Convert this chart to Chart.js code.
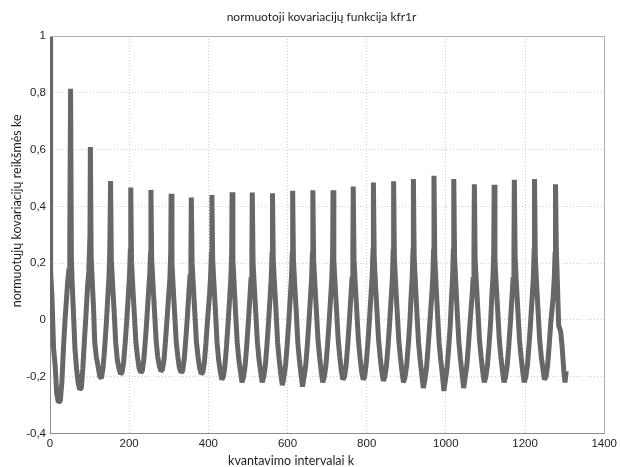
<!DOCTYPE html>
<html>
<head>
<meta charset="utf-8">
<script src="https://cdn.jsdelivr.net/npm/chart.js@4.4.1/dist/chart.umd.min.js"></script>
<style>
  html, body { margin: 0; padding: 0; background: #fff; }
  #chart { display: block; }
</style>
</head>
<body>
<canvas id="chart" width="620" height="467"></canvas>
<script>
const chartTitle = 'normuotoji kovariacijų funkcija kfr1r';
const xTitle = 'kvantavimo intervalai k';
const yTitle = 'normuotųjų kovariacijų reikšmės ke';

const xTickLabels = ['0', '200', '400', '600', '800', '1000', '1200', '1400'];
const yTickLabels = ['-0,4', '-0,2', '0', '0,2', '0,4', '0,6', '0,8', '1'];

// one line per period, peak first
const kValues = [
  0, 1, 2, 5, 9, 13, 17, 21, 26, 30, 34, 38, 42, 45, 48, 50,
  52, 54, 56, 60, 63, 67, 71, 75, 79, 83, 87, 91, 95, 98, 101,
  102, 104, 107, 110, 113, 117, 121, 126, 130, 134, 138, 142, 146, 149, 151,
  153, 155, 158, 162, 166, 170, 174, 178, 182, 186, 190, 194, 198, 201, 203,
  204, 206, 209, 213, 217, 221, 225, 229, 233, 237, 241, 245, 249, 252, 254,
  255, 257, 260, 264, 268, 272, 276, 280, 284, 288, 292, 296, 300, 303, 305,
  306, 308, 311, 315, 319, 323, 327, 331, 335, 339, 343, 347, 351, 354, 356,
  357, 359, 362, 366, 370, 374, 378, 382, 386, 390, 394, 398, 403, 406, 408,
  409, 411, 414, 418, 422, 426, 430, 434, 438, 442, 446, 450, 454, 457, 459,
  460, 462, 465, 469, 473, 477, 481, 485, 489, 493, 497, 501, 505, 508, 510,
  511, 513, 516, 520, 524, 528, 532, 536, 540, 544, 548, 552, 556, 559, 561,
  562, 564, 567, 571, 575, 579, 583, 587, 591, 595, 599, 603, 607, 610, 612,
  613, 615, 618, 622, 626, 630, 634, 638, 642, 646, 650, 654, 658, 661, 663,
  664, 666, 669, 673, 677, 681, 685, 689, 693, 697, 701, 705, 709, 712, 714,
  715, 717, 720, 724, 728, 732, 736, 740, 744, 748, 752, 756, 760, 763, 765,
  766, 768, 771, 775, 779, 783, 787, 791, 795, 799, 803, 807, 811, 814, 816,
  817, 819, 822, 826, 830, 834, 838, 842, 846, 850, 854, 858, 862, 865, 867,
  868, 870, 873, 877, 881, 885, 889, 893, 897, 901, 905, 909, 912, 915, 917,
  918, 920, 923, 927, 931, 935, 939, 943, 947, 951, 955, 959, 964, 967, 969,
  970, 972, 975, 979, 983, 987, 991, 995, 999, 1003, 1007, 1011, 1014, 1017, 1019,
  1020, 1022, 1025, 1029, 1033, 1037, 1041, 1045, 1049, 1053, 1057, 1061, 1066, 1069, 1071,
  1072, 1074, 1077, 1081, 1085, 1089, 1093, 1097, 1101, 1105, 1109, 1113, 1116, 1119, 1121,
  1122, 1124, 1127, 1131, 1135, 1139, 1143, 1147, 1151, 1155, 1159, 1163, 1167, 1170, 1172,
  1173, 1175, 1178, 1182, 1186, 1190, 1194, 1198, 1202, 1206, 1210, 1214, 1218, 1221, 1223,
  1224, 1226, 1229, 1233, 1237, 1241, 1245, 1249, 1253, 1257, 1261, 1265, 1271, 1274, 1276,
  1277, 1279, 1281, 1285, 1290, 1294, 1298, 1301, 1304
];

const keValues = [
  1.0, 0.55, 0.17, 0.08, -0.1, -0.16, -0.26, -0.29, -0.285, -0.22, -0.1, 0.0, 0.08, 0.14, 0.18, 0.3,
  0.814, 0.22, 0.13, 0.0, -0.1, -0.17, -0.22, -0.245, -0.24, -0.17, -0.07, 0.02, 0.12, 0.17, 0.3,
  0.609, 0.22, 0.13, 0.04, -0.08, -0.13, -0.16, -0.2, -0.205, -0.17, -0.1, -0.02, 0.08, 0.15, 0.24,
  0.489, 0.21, 0.13, 0.03, -0.08, -0.14, -0.17, -0.19, -0.185, -0.15, -0.08, 0.0, 0.09, 0.16, 0.25,
  0.466, 0.2, 0.12, 0.02, -0.08, -0.13, -0.17, -0.185, -0.18, -0.14, -0.07, 0.01, 0.1, 0.16, 0.24,
  0.458, 0.21, 0.13, 0.03, -0.07, -0.13, -0.16, -0.18, -0.175, -0.14, -0.07, 0.01, 0.09, 0.15, 0.24,
  0.444, 0.2, 0.12, 0.02, -0.08, -0.13, -0.17, -0.185, -0.18, -0.14, -0.07, 0.01, 0.1, 0.16, 0.24,
  0.431, 0.2, 0.12, 0.02, -0.08, -0.13, -0.17, -0.19, -0.185, -0.15, -0.08, 0.0, 0.09, 0.16, 0.24,
  0.44, 0.21, 0.13, 0.03, -0.08, -0.14, -0.18, -0.21, -0.2, -0.16, -0.09, -0.01, 0.08, 0.15, 0.24,
  0.45, 0.21, 0.13, 0.02, -0.08, -0.14, -0.18, -0.22, -0.2, -0.16, -0.09, -0.01, 0.08, 0.15, 0.24,
  0.449, 0.2, 0.12, 0.02, -0.08, -0.14, -0.18, -0.22, -0.2, -0.16, -0.09, -0.01, 0.08, 0.15, 0.24,
  0.446, 0.21, 0.13, 0.03, -0.08, -0.14, -0.19, -0.23, -0.2, -0.16, -0.09, -0.01, 0.08, 0.15, 0.24,
  0.455, 0.21, 0.13, 0.03, -0.08, -0.14, -0.19, -0.235, -0.2, -0.16, -0.09, -0.01, 0.08, 0.15, 0.24,
  0.457, 0.21, 0.13, 0.03, -0.07, -0.13, -0.18, -0.22, -0.2, -0.16, -0.09, -0.01, 0.08, 0.15, 0.24,
  0.457, 0.21, 0.13, 0.03, -0.07, -0.13, -0.18, -0.21, -0.2, -0.16, -0.09, -0.01, 0.08, 0.15, 0.24,
  0.47, 0.21, 0.13, 0.03, -0.07, -0.13, -0.18, -0.21, -0.2, -0.15, -0.08, 0.0, 0.09, 0.16, 0.25,
  0.484, 0.22, 0.13, 0.03, -0.07, -0.13, -0.18, -0.215, -0.2, -0.16, -0.09, -0.01, 0.08, 0.15, 0.25,
  0.488, 0.22, 0.13, 0.03, -0.07, -0.13, -0.18, -0.22, -0.2, -0.16, -0.09, -0.01, 0.08, 0.15, 0.25,
  0.496, 0.22, 0.13, 0.02, -0.08, -0.14, -0.19, -0.24, -0.21, -0.17, -0.1, -0.02, 0.08, 0.15, 0.25,
  0.508, 0.22, 0.13, 0.02, -0.08, -0.14, -0.19, -0.25, -0.21, -0.17, -0.1, -0.02, 0.07, 0.15, 0.25,
  0.496, 0.22, 0.13, 0.02, -0.08, -0.14, -0.19, -0.24, -0.2, -0.16, -0.09, -0.01, 0.08, 0.15, 0.25,
  0.478, 0.21, 0.13, 0.03, -0.07, -0.13, -0.18, -0.22, -0.2, -0.16, -0.09, -0.01, 0.08, 0.15, 0.24,
  0.476, 0.21, 0.13, 0.03, -0.07, -0.13, -0.18, -0.22, -0.2, -0.16, -0.09, -0.01, 0.08, 0.15, 0.24,
  0.494, 0.22, 0.13, 0.03, -0.07, -0.13, -0.18, -0.22, -0.2, -0.16, -0.09, -0.01, 0.08, 0.15, 0.25,
  0.496, 0.22, 0.13, 0.03, -0.07, -0.13, -0.17, -0.21, -0.2, -0.16, -0.09, -0.01, 0.08, 0.15, 0.24,
  0.478, 0.25, 0.165, -0.02, -0.04, -0.1, -0.18, -0.22, -0.18
];

const tickFont = { family: "'Liberation Sans', Arial, sans-serif", size: 11.5 };
const labelFont = "Lato, 'Open Sans', sans-serif";

// frame on top/right plus the three titles, placed like the matlab figure
const frameAndTitles = {
  id: 'frameAndTitles',
  afterDraw(chart) {
    const { ctx, chartArea: area } = chart;
    const w = area.right - area.left;
    const h = area.bottom - area.top;
    ctx.save();
    ctx.strokeStyle = '#b0b0b0';
    ctx.lineWidth = 1;
    ctx.beginPath();
    ctx.moveTo(area.left, Math.round(area.top) + 0.5);
    ctx.lineTo(Math.round(area.right) + 0.5, Math.round(area.top) + 0.5);
    ctx.lineTo(Math.round(area.right) + 0.5, area.bottom);
    ctx.stroke();

    ctx.fillStyle = '#1e1e1e';
    ctx.textAlign = 'center';
    ctx.textBaseline = 'alphabetic';
    ctx.font = `12px ${labelFont}`;
    ctx.fillText(chartTitle, area.left + w * 0.49, 21);
    ctx.font = `12.5px ${labelFont}`;
    ctx.fillText(xTitle, area.left + w * 0.435, 465);
    ctx.translate(21, area.top + h * 0.44);
    ctx.rotate(-Math.PI / 2);
    ctx.fillText(yTitle, 0, 0);
    ctx.restore();
  }
};

new Chart(document.getElementById('chart'), {
  type: 'line',
  data: {
    datasets: [{
      data: kValues.map((k, i) => ({ x: k, y: keValues[i] })),
      borderColor: '#676767',
      borderWidth: 5,
      borderJoinStyle: 'bevel',
      pointRadius: 0,
      tension: 0,
      fill: false
    }]
  },
  options: {
    responsive: false,
    animation: false,
    layout: { padding: { top: 36, right: 12 } },
    plugins: {
      legend: { display: false },
      tooltip: { enabled: false }
    },
    scales: {
      x: {
        type: 'linear',
        min: 0,
        max: 1400,
        ticks: { stepSize: 200, padding: 3, color: '#1e1e1e', font: tickFont, maxRotation: 0, callback: (value, index) => xTickLabels[index] },
        grid: { color: '#cfcfcf', drawTicks: false },
        border: { color: '#8c8c8c', dash: [1, 2] },
        afterFit: (scale) => { scale.height = 33.5; }
      },
      y: {
        min: -0.4,
        max: 1,
        ticks: { stepSize: 0.2, padding: 4, color: '#1e1e1e', font: tickFont, callback: (value, index) => yTickLabels[index] },
        grid: { color: '#cfcfcf', drawTicks: false },
        border: { color: '#8c8c8c', dash: [1, 2] },
        afterFit: (scale) => { scale.width = 50; }
      }
    }
  },
  plugins: [frameAndTitles]
});
</script>
</body>
</html>
